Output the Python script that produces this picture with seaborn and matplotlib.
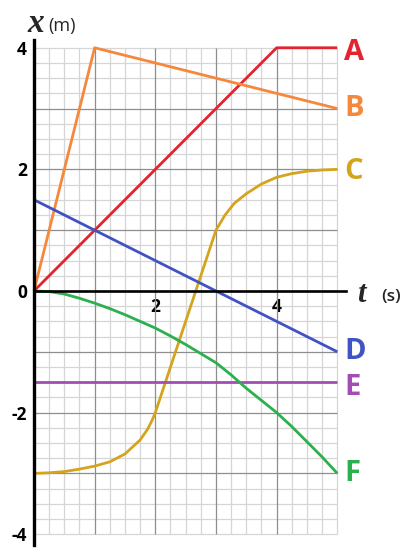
import numpy as np
import pandas as pd
import matplotlib
matplotlib.use("Agg")
import matplotlib.pyplot as plt
import seaborn as sns

# position x (m) versus time t (s), six motions
t_A = [0, 4, 5]
x_A = [0, 4, 4]

t_B = [0, 1, 5]
x_B = [0, 4, 3]

t_C = [0, 0.25, 0.5, 0.75, 1.0, 1.25, 1.5, 1.75, 1.875, 1.95, 2.0, 2.5, 2.9, 3.0,
       3.15, 3.3, 3.5, 3.75, 4.0, 4.25, 4.5, 4.75, 5.0]
x_C = [-3.0, -2.99, -2.97, -2.93, -2.88, -2.81, -2.68, -2.45, -2.27, -2.12, -2.0,
       -0.5, 0.7, 1.0, 1.25, 1.44, 1.6, 1.76, 1.87, 1.93, 1.97, 1.99, 2.0]

t_D = [0, 5]
x_D = [1.5, -1.0]

t_E = [0, 5]
x_E = [-1.5, -1.5]

t_F = [0, 0.25, 0.5, 0.75, 1.0, 1.25, 1.5, 1.75, 2.0, 2.25, 2.5, 2.75, 3.0,
       3.25, 3.5, 3.75, 4.0, 4.25, 4.5, 4.75, 5.0]
x_F = [0, -0.01, -0.05, -0.12, -0.2, -0.29, -0.39, -0.5, -0.61, -0.74, -0.88,
       -1.03, -1.18, -1.38, -1.6, -1.8, -2.0, -2.23, -2.48, -2.73, -3.0]

curves = ["A", "B", "C", "D", "E", "F"]
colors = ["#e3232e", "#f5883c", "#d4a41c", "#4152c4", "#a34db4", "#2bb04e"]
label_dy = [-0.07, 0.0, -0.03, 0.0, -0.09, 0.0]

y_ticks = [-4, -2, 0, 2, 4]
y_tick_labels = ["-4", "-2", "0", "2", "4"]
x_ticks = [2, 4]
x_tick_labels = ["2", "4"]

series = {"A": (t_A, x_A), "B": (t_B, x_B), "C": (t_C, x_C),
          "D": (t_D, x_D), "E": (t_E, x_E), "F": (t_F, x_F)}
df = pd.concat(
    [pd.DataFrame({"t": t, "x": x, "curve": k}) for k, (t, x) in series.items()],
    ignore_index=True,
)

sns.set_theme(style="white")
plt.rcParams["font.family"] = ["Open Sans", "DejaVu Sans"]

fig = plt.figure(figsize=(4.09, 5.51), dpi=100)
ax = fig.add_axes([0.0831, 0.0305, 0.7416, 0.8828])
ax.set_xlim(0, 5)
ax.set_ylim(-4, 4)

# graph paper: light quarter lines, darker unit lines
for v in np.arange(0, 5.01, 0.25):
    major = float(v).is_integer() and 0 < v < 5
    ax.axvline(v, color="#8e8e8e" if major else "#d6d6d6",
               lw=0.9 if major else 0.9, zorder=1 if major else 0)
for v in np.arange(-4, 4.01, 0.25):
    major = float(v).is_integer() and -4 < v < 4
    ax.axhline(v, color="#8e8e8e" if major else "#d6d6d6",
               lw=0.9 if major else 0.9, zorder=1 if major else 0)

sns.lineplot(data=df, x="t", y="x", hue="curve", palette=dict(zip(curves, colors)),
             estimator=None, sort=False, legend=False, lw=2.0, ax=ax, zorder=3)
for line in ax.get_lines():
    line.set_clip_on(False)
    line.set_solid_capstyle("butt")

for k, c, dy in zip(curves, colors, label_dy):
    t, x = series[k]
    ax.text(5.11, x[-1] + dy, k, color=c, fontsize=21, fontweight="bold",
            ha="left", va="center")

for side in ["top", "right"]:
    ax.spines[side].set_visible(False)
ax.spines["left"].set_color("black")
ax.spines["left"].set_linewidth(2.4)
ax.spines["left"].set_bounds(-4.18, 4.12)
ax.spines["left"].set_zorder(4)
ax.spines["bottom"].set_position(("data", 0))
ax.spines["bottom"].set_color("black")
ax.spines["bottom"].set_linewidth(1.9)
ax.spines["bottom"].set_bounds(0, 5.14)
ax.spines["bottom"].set_zorder(4)

ax.set_yticks(y_ticks, y_tick_labels)
ax.set_xticks(x_ticks, x_tick_labels)
ax.tick_params(axis="both", length=0, labelsize=12.5, labelcolor="black")
ax.tick_params(axis="y", pad=5)
ax.tick_params(axis="x", pad=5)
for lab in ax.get_xticklabels() + ax.get_yticklabels():
    lab.set_fontweight("bold")
ax.set_xlabel("")
ax.set_ylabel("")

ax.text(-0.11, 4.26, "x", fontsize=24, fontweight="bold", style="italic",
        family="Liberation Serif", ha="left", va="baseline")
ax.text(0.24, 4.27, "(m)", fontsize=13, ha="left", va="baseline")
ax.text(5.33, -0.18, "t", fontsize=22, fontweight="bold", style="italic",
        family="Liberation Serif", ha="left", va="baseline")
ax.text(5.72, -0.17, "(s)", fontsize=12.5, fontweight="semibold",
        ha="left", va="baseline")

fig.savefig("out.png", dpi=100)
plt.close(fig)
